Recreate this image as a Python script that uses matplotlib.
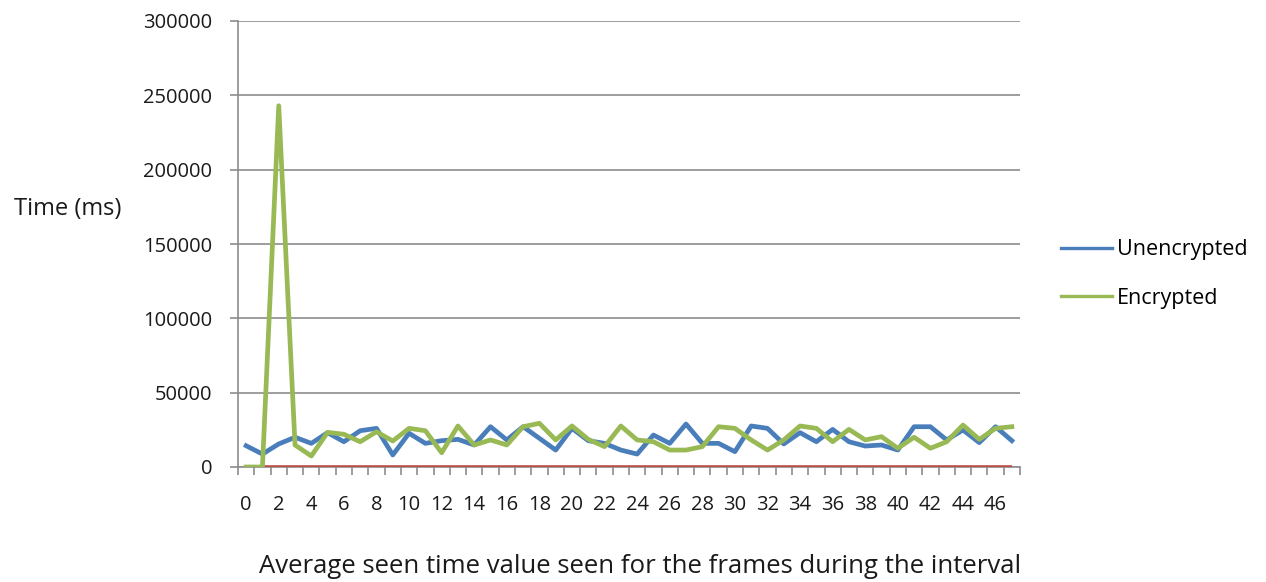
import matplotlib
matplotlib.use("Agg")
import matplotlib.pyplot as plt
import numpy as np
from matplotlib.ticker import FixedLocator, NullFormatter

plt.rcParams['font.family'] = ['Open Sans', 'DejaVu Sans']

# Interval index 0..47
intervals = list(range(48))

unencrypted = [14300, 8700, 15500, 20000, 15900, 23100, 17000, 24400, 26000, 8100,
               22700, 15900, 17700, 18600, 14800, 27100, 18200, 27100, 19300, 11400,
               26000, 17700, 15900, 11400, 8700, 21500, 15900, 28900, 15900, 15900,
               10300, 27600, 26000, 15500, 23100, 17000, 25300, 17000, 14100, 14800,
               11400, 27100, 27100, 18200, 24900, 16400, 27100, 17700]

encrypted = [0, 0, 243000, 14800, 7400, 23300, 22000, 17000, 23700, 17500,
             26000, 24400, 9600, 27600, 14800, 18200, 14800, 27100, 29400, 18200,
             27600, 18600, 13700, 27600, 18200, 17000, 11400, 11400, 13700, 27100,
             26000, 18200, 11400, 18200, 27600, 26000, 17000, 25300, 18200, 20400,
             12600, 20000, 12600, 17000, 28200, 18600, 26000, 27100]

baseline = [0] * 48

y_ticks = [0, 50000, 100000, 150000, 200000, 250000, 300000]
x_labels = [str(i) for i in range(0, 48, 2)]

BLUE = "#4A7EBB"
GREEN = "#98B954"
RED = "#BE4B48"
GRID = "#8C8C8C"
TEXT = "#1a1a1a"

fig = plt.figure(figsize=(12.66, 5.82), dpi=100)
ax = fig.add_axes([238 / 1266, 1 - 467 / 582, (1020 - 238) / 1266, (467 - 21) / 582])

x = np.array(intervals)
ax.plot(x, baseline, color=RED, lw=2.6, zorder=3, solid_capstyle='butt')
ax.plot(x, unencrypted, color=BLUE, lw=3.4, zorder=4, label="Unencrypted",
        solid_joinstyle='round')
ax.plot(x, encrypted, color=GREEN, lw=3.4, zorder=5, label="Encrypted",
        solid_joinstyle='round')

ax.set_xlim(-0.5, 47.5)
ax.set_ylim(0, 300000)

# y axis
ax.set_yticks(y_ticks)
ax.set_yticklabels([str(v) for v in y_ticks])
ax.yaxis.grid(True, color=GRID, lw=1.2)
ax.set_axisbelow(True)
ax.tick_params(axis='y', length=5.5, width=1.2, color=GRID, pad=13,
               labelsize=14.5, labelcolor=TEXT)

# x axis: labels at category centres, tick marks at category boundaries
ax.set_xticks(list(range(0, 48, 2)))
ax.set_xticklabels(x_labels)
ax.tick_params(axis='x', which='major', length=0, pad=20, labelsize=14.5,
               labelcolor=TEXT)
ax.xaxis.set_minor_locator(FixedLocator(np.arange(-0.5, 48, 1)))
ax.xaxis.set_minor_formatter(NullFormatter())
ax.tick_params(axis='x', which='minor', length=6, width=1.2, color=GRID)

for side in ('top', 'right'):
    ax.spines[side].set_visible(False)
for side in ('left', 'bottom'):
    ax.spines[side].set_color(GRID)
    ax.spines[side].set_linewidth(1.2)

fig.text(14 / 1266, 1 - 215 / 582, "Time (ms)", fontsize=17, color=TEXT,
         ha='left', va='baseline')
fig.text(640 / 1266, 1 - 573 / 582,
         "Average seen time value seen for the frames during the interval",
         fontsize=18.5, color=TEXT, ha='center', va='baseline')

leg = ax.legend(loc='center left', bbox_to_anchor=(1061 / 1266, 1 - 274 / 582),
                bbox_transform=fig.transFigure, frameon=False, fontsize=15.5,
                handlelength=2.37, handletextpad=0.23, labelspacing=1.27,
                borderaxespad=0, borderpad=0)
for line in leg.get_lines():
    line.set_linewidth(2.4)

fig.savefig("out.png", dpi=100)
